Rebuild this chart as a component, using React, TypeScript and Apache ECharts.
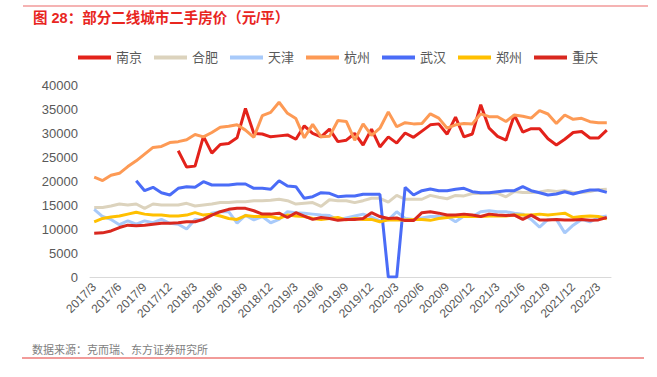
import React, { useEffect, useRef } from "react";
import * as echarts from "echarts";

const months = [
  "2017/3","2017/4","2017/5","2017/6","2017/7","2017/8","2017/9","2017/10","2017/11","2017/12",
  "2018/1","2018/2","2018/3","2018/4","2018/5","2018/6","2018/7","2018/8","2018/9","2018/10","2018/11","2018/12",
  "2019/1","2019/2","2019/3","2019/4","2019/5","2019/6","2019/7","2019/8","2019/9","2019/10","2019/11","2019/12",
  "2020/1","2020/2","2020/3","2020/4","2020/5","2020/6","2020/7","2020/8","2020/9","2020/10","2020/11","2020/12",
  "2021/1","2021/2","2021/3","2021/4","2021/5","2021/6","2021/7","2021/8","2021/9","2021/10","2021/11","2021/12",
  "2022/1","2022/2","2022/3","2022/4",
];

const nanjing = [
  null, null, null, null, null, null, null, null, null, null,
  26300, 22900, 23100, 29300, 25800, 27600, 27800, 29000, 35100, 29900,
  29800, 29200, 29400, 29600, 28700, 31500, 29900, 29200, 30800, 28200,
  28500, 29900, 27500, 30800, 27100, 29200, 27900, 30000, 29100, 30400,
  31700, 31900, 29750, 33300, 29200, 29800, 35900, 31000, 29300, 28500,
  33750, 30200, 30900, 30900, 28800, 27500, 28700, 30100, 30300, 28950,
  28950, 30600,
];

const hefei = [
  14500, 14500, 14800, 15200, 15000, 15200, 14300, 15200, 15000, 15000,
  15000, 15350, 14800, 15000, 15200, 15500, 15500, 15700, 15700, 15900,
  15900, 16000, 16200, 15900, 15200, 15350, 15500, 14700, 16100, 15900,
  15900, 15500, 15900, 16400, 16400, 15600, 17000, 16200, 16200, 16200,
  17000, 16600, 16300, 17000, 16900, 17400, 17400, 17500, 17400, 16700,
  17800, 17600, 17600, 17700, 18000, 17800, 18000, 17600, 17600, 17800,
  18200, 18300,
];

const tianjin = [
  14100, 12600, 12000, 10900, 11700, 11000, 11700, 11300, 12000, 11200,
  11000, 10000, 12000, 11900, 13300, 13600, 13600, 11200, 12900, 11900,
  12600, 11300, 12000, 13600, 13400, 13300, 13100, 12900, 12800, 11900,
  12300, 12700, 13100, 12500, 11700, 11900, 13600, 12200, 12000, 12300,
  12600, 12600, 12600, 11500, 12700, 12600, 13600, 13800, 13600, 13600,
  13300, 13100, 12000, 10400, 12000, 12000, 9200, 10800, 12000, 11500,
  12400, 12700,
];

const hangzhou = [
  20800, 20100, 21200, 21600, 23000, 24200, 25600, 27000, 27200, 28000,
  28200, 28600, 29700, 29200, 30100, 31200, 31400, 31700, 30600, 29100,
  33600, 34300, 36400, 34100, 33000, 29000, 31800, 29200, 29300, 32600,
  32400, 28500, 31900, 29500, 31000, 34400, 31300, 32150, 31900, 32000,
  34000, 33100, 31000, 31700, 32000, 31900, 34000, 33400, 33400, 32400,
  33750, 33500, 33100, 34650, 33960, 32000, 33750, 32850, 33060, 32360,
  32150, 32150,
];

const wuhan = [
  null, null, null, null, null, 20060, 17980, 18680, 17560, 17080,
  18470, 18820, 18680, 19850, 19170, 19170, 19170, 19370, 19370, 18470,
  18470, 18270, 20060, 18960, 18820, 16400, 16730, 17560, 17440, 16730,
  16870, 16870, 17230, 17230, 17230, 0, 0, 18680, 17080, 17980,
  18330, 17980, 17980, 18270, 18470, 17770, 17560, 17560, 17770, 17980,
  17980, 18820, 17980, 17560, 17080, 17290, 17770, 17290, 17770, 18120,
  18120, 17640,
];

const zhengzhou = [
  11500, 12200, 12500, 12700, 13100, 13500, 13100, 12900, 12900, 12700,
  12700, 12900, 13400, 12900, 13100, 12700, 12200, 12000, 12800, 12600,
  12600, 12600, 12200, 12900, 12700, 12600, 12200, 12000, 12200, 12400,
  11900, 12200, 12000, 12000, 11500, 11900, 11900, 11900, 12000, 12000,
  11800, 12200, 12400, 12600, 12600, 12600, 12600, 12700, 12700, 12700,
  12900, 12900, 12900, 13100, 12900, 13100, 13300, 12400, 12600, 12700,
  12600, 12100,
];

const chongqing = [
  9100, 9200, 9600, 10300, 10800, 10700, 10800, 11000, 11200, 11200,
  11300, 11500, 11500, 12000, 12900, 13600, 14100, 14300, 14300, 13800,
  13100, 13100, 13300, 12400, 13400, 12700, 12000, 12400, 12200, 11800,
  12000, 12000, 12200, 13400, 12600, 12200, 12300, 11750, 11750, 13400,
  13600, 13300, 12900, 12900, 13100, 12900, 12600, 13100, 12900, 12800,
  12900, 12000, 12900, 11900, 11900, 12000, 11900, 11900, 12000, 11800,
  11900, 12400,
];

const seriesNames = ["南京", "合肥", "天津", "杭州", "武汉", "郑州", "重庆"];
const seriesColors = ["#e3221b", "#dcd3bd", "#a8cafa", "#fd9a55", "#4a6cf7", "#ffc000", "#d9281f"];
const seriesData = [nanjing, hefei, tianjin, hangzhou, wuhan, zhengzhou, chongqing];

const yTicks = { min: 0, max: 40000, interval: 5000 };

const titleText = "图 28：部分二线城市二手房价（元/平）";
const sourceText = "数据来源：克而瑞、东方证券研究所";

const FONT = "'Liberation Sans', Arial, 'Noto Sans CJK SC', sans-serif";

export default function App() {
  const ref = useRef<HTMLDivElement>(null);

  useEffect(() => {
    if (!ref.current) return;
    const chart = echarts.init(ref.current, undefined, { renderer: "svg" });
    chart.setOption({
      animation: false,
      backgroundColor: "#ffffff",
      textStyle: { fontFamily: FONT },
      grid: { left: 90, right: 46, top: 85, bottom: 100 },
      legend: {
        left: 73,
        top: 46,
        icon: "rect",
        itemWidth: 33,
        itemHeight: 4,
        itemGap: 12,
        textStyle: { fontSize: 13, color: "#595959", fontFamily: FONT },
        data: seriesNames,
      },
      xAxis: {
        type: "category",
        data: months,
        boundaryGap: true,
        axisLine: { show: true, lineStyle: { color: "#d9d9d9", width: 1 } },
        axisTick: { show: false },
        axisLabel: {
          interval: 2,
          rotate: 45,
          fontSize: 12,
          color: "#595959",
          margin: 8,
          fontFamily: FONT,
        },
        splitLine: { show: false },
      },
      yAxis: {
        type: "value",
        min: yTicks.min,
        max: yTicks.max,
        interval: yTicks.interval,
        axisLine: { show: false },
        axisTick: { show: false },
        splitLine: { show: false },
        axisLabel: {
          fontSize: 13,
          color: "#595959",
          margin: 12,
          fontFamily: FONT,
          formatter: (v: number) => String(v),
        },
      },
      series: seriesNames.map((name, i) => ({
        name,
        type: "line",
        data: seriesData[i],
        symbol: "none",
        connectNulls: false,
        lineStyle: { color: seriesColors[i], width: 3 },
        itemStyle: { color: seriesColors[i] },
      })),
      graphic: [
        {
          type: "line",
          shape: { x1: 23, y1: 6, x2: 648, y2: 6 },
          style: { stroke: "#f29a9a", lineWidth: 1.5 },
        },
        {
          type: "text",
          x: 33,
          y: 18,
          style: {
            text: titleText,
            fill: "#e8261f",
            font: `bold 14.5px ${FONT}`,
            verticalAlign: "middle",
          },
        },
        {
          type: "text",
          x: 32,
          y: 350,
          style: {
            text: sourceText,
            fill: "#808080",
            font: `11px ${FONT}`,
            verticalAlign: "middle",
          },
        },
        {
          type: "line",
          shape: { x1: 22, y1: 358, x2: 644, y2: 358 },
          style: { stroke: "#e53935", lineWidth: 1 },
        },
      ],
    });
    return () => chart.dispose();
  }, []);

  return (
    <div
      ref={ref}
      style={{ position: "absolute", left: 0, top: 0, width: 657, height: 377 }}
    />
  );
}
